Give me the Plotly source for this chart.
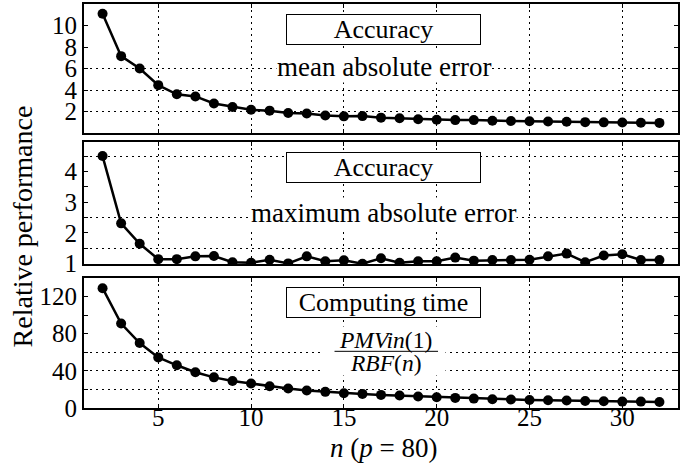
import plotly.graph_objects as go

n_vals = list(range(2, 33))

mean_abs_err = [11.1, 7.15, 6.0, 4.45, 3.6, 3.4, 2.75, 2.42, 2.16, 2.08, 1.86, 1.82, 1.62, 1.55, 1.57,
                1.43, 1.37, 1.28, 1.24, 1.2, 1.2, 1.14, 1.12, 1.1, 1.07, 1.04, 1.01, 0.99, 0.98, 0.96, 0.94]
max_abs_err = [4.51, 2.31, 1.64, 1.14, 1.14, 1.23, 1.24, 1.04, 1.02, 1.12, 1.0, 1.23, 1.07, 1.1, 0.99,
               1.17, 1.02, 1.07, 1.07, 1.19, 1.09, 1.11, 1.11, 1.12, 1.23, 1.32, 1.04, 1.26, 1.3, 1.11, 1.11]
comp_time = [129, 91, 70, 54.5, 46, 38.5, 33, 29, 26.4, 23.5, 21, 18.8, 17.4, 15.9, 15.2,
             14.1, 13.4, 12.3, 11.6, 10.9, 10.1, 9.4, 9.1, 8.7, 8.3, 8.0, 7.6, 7.2, 6.9, 6.9, 6.5]

x_ticks = [5, 10, 15, 20, 25, 30]
y1_ticks = [2, 4, 6, 8, 10]
y1_grid = [2, 4, 6]
y2_ticks = [1, 1.5, 2, 2.5, 3, 3.5, 4, 4.5]
y2_ticktext = ["1", "", "2", "", "3", "", "4", ""]
y2_grid = [1, 1.5, 2.5, 4.5]
y3_ticks = [0, 20, 40, 60, 80, 100, 120]
y3_ticktext = ["0", "", "40", "", "80", "", "120"]
y3_grid = [20, 40, 60]

FONT = '"Liberation Serif", "Times New Roman", Times, "DejaVu Serif", serif'
DASH = "2px,4px"

fig = go.Figure()
for vals, yname in [(mean_abs_err, "y"), (max_abs_err, "y2"), (comp_time, "y3")]:
    xname = "x" if yname == "y" else "x" + yname[1:]
    fig.add_trace(go.Scatter(x=n_vals, y=vals, mode="lines+markers", xaxis=xname, yaxis=yname,
                             line=dict(color="black", width=2.5),
                             marker=dict(color="black", size=10), showlegend=False))
# empty traces to hold grid-only overlay axes
for xname, yname in [("x", "y4"), ("x2", "y5"), ("x3", "y6")]:
    fig.add_trace(go.Scatter(x=[], y=[], xaxis=xname, yaxis=yname, showlegend=False))

tickfont = dict(family=FONT, size=25, color="black")
xcommon = dict(range=[1, 33], tickvals=x_ticks, ticks="inside", ticklen=4, tickwidth=1,
               tickcolor="black", showline=True, linewidth=2, linecolor="black", mirror="ticks",
               showgrid=True, gridcolor="black", gridwidth=1, griddash=DASH, zeroline=False,
               tickfont=tickfont, domain=[0, 1], automargin=False)
ycommon = dict(ticks="inside", ticklen=4, tickwidth=1, tickcolor="black", showline=True,
               linewidth=2, linecolor="black", mirror="ticks", showgrid=False, zeroline=False,
               tickfont=tickfont, automargin=False)
gridcommon = dict(showgrid=True, gridcolor="black", gridwidth=1, griddash=DASH, ticks="",
                  showticklabels=False, showline=False, zeroline=False, side="left", automargin=False)

dom1, dom2, dom3 = [0.6807, 1.0], [0.3564, 0.6584], [0.0, 0.3218]
fig.update_layout(
    width=688, height=463, margin=dict(l=84, r=10, t=4, b=55, autoexpand=False),
    paper_bgcolor="white", plot_bgcolor="white",
    xaxis=dict(xcommon, anchor="y", showticklabels=False),
    xaxis2=dict(xcommon, anchor="y2", showticklabels=False),
    xaxis3=dict(xcommon, anchor="y3", showticklabels=True, ticklabelstandoff=-14),
    yaxis=dict(ycommon, domain=dom1, range=[0, 12], tickvals=y1_ticks, anchor="x"),
    yaxis2=dict(ycommon, domain=dom2, range=[0.98, 4.97], tickvals=y2_ticks, ticktext=y2_ticktext, anchor="x2"),
    yaxis3=dict(ycommon, domain=dom3, range=[0, 140], tickvals=y3_ticks, ticktext=y3_ticktext, anchor="x3"),
    yaxis4=dict(gridcommon, overlaying="y", range=[0, 12], tickvals=y1_grid, anchor="x"),
    yaxis5=dict(gridcommon, overlaying="y2", range=[0.98, 4.97], tickvals=y2_grid, anchor="x2"),
    yaxis6=dict(gridcommon, overlaying="y3", range=[0, 140], tickvals=y3_grid, anchor="x3"),
)

txt = dict(family=FONT, size=26, color="black")
txt2 = dict(family=FONT, size=27, color="black")
ann = []
# boxed titles
for k, (label, yc) in enumerate([("Accuracy", 0.806), ("Accuracy", 0.795), ("Computing time", 0.815)]):
    s = "" if k == 0 else str(k + 1)
    ann.append(dict(text=label, xref=f"x{s} domain", yref=f"y{s} domain", x=0.505, y=yc,
                    showarrow=False, font=txt, bgcolor="white", bordercolor="black", borderwidth=1,
                    borderpad=0, width=193, height=29, xanchor="center", yanchor="middle"))
ann.append(dict(text="mean absolute error", xref="x domain", yref="y domain", x=0.505, y=0.51,
                showarrow=False, font=txt2, bgcolor="white", borderpad=0))
ann.append(dict(text="maximum absolute error", xref="x2 domain", yref="y2 domain", x=0.505, y=0.42,
                showarrow=False, font=txt2, bgcolor="white", borderpad=0))
# fraction in bottom panel
ann.append(dict(text=" ", xref="x3 domain", yref="y3 domain", x=0.505, y=0.44, showarrow=False,
                bgcolor="white", width=120, height=46, font=dict(size=10)))
fr = dict(family=FONT, size=23.5, color="black")
ann.append(dict(text="<i>PMVin</i>(1)", xref="x3 domain", yref="y3 domain", x=0.507, y=0.525,
                showarrow=False, font=fr))
ann.append(dict(text="<i>RBF</i>(<i>n</i>)", xref="x3 domain", yref="y3 domain", x=0.507, y=0.345,
                showarrow=False, font=fr))
ann.append(dict(text="", xref="x3 domain", yref="y3 domain", x=0.596, y=0.436, ax=-105, ay=0,
                showarrow=True, arrowhead=0, arrowwidth=1, arrowcolor="black", standoff=0, startstandoff=0))
# x-axis title
ann.append(dict(text="<i>n</i> (<i>p</i> = 80)", xref="paper", yref="paper", x=0.505, y=-0.1,
                showarrow=False, font=dict(family=FONT, size=27, color="black"),
                xanchor="center", yanchor="middle"))
# y-axis title
ann.append(dict(text="Relative performance", xref="paper", yref="paper", x=-0.104, y=0.45,
                textangle=-90, showarrow=False, font=dict(family=FONT, size=28, color="black"),
                xanchor="center", yanchor="middle"))
fig.update_layout(annotations=ann)

fig.write_html("out.html")
